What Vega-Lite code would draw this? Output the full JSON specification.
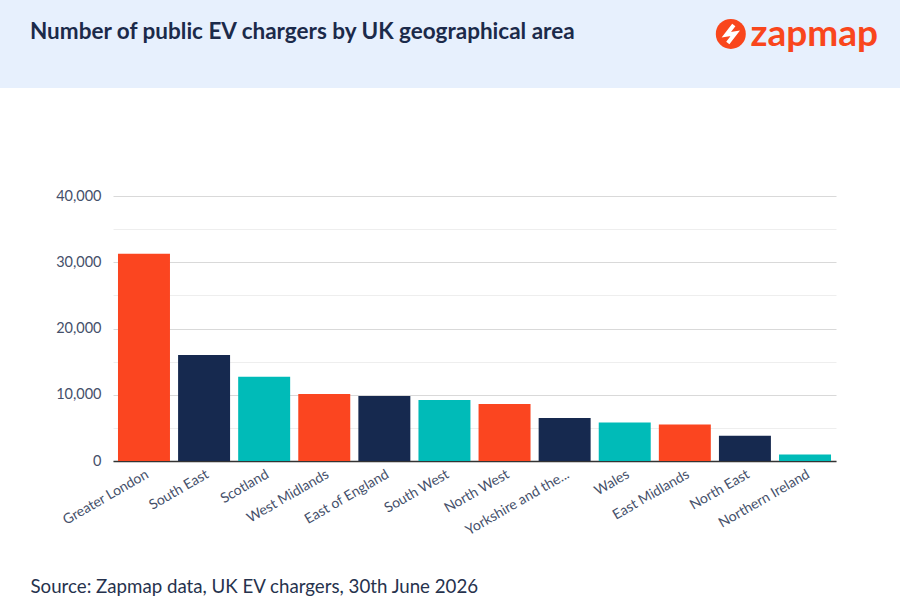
{
  "$schema": "https://vega.github.io/schema/vega-lite/v6.json",
  "padding": 0,
  "background": "white",
  "spacing": 100,
  "config": {
    "view": {"stroke": null},
    "font": "Lato",
    "concat": {"spacing": 0}
  },
  "vconcat": [
    {
      "width": 900,
      "height": 88,
      "view": {"fill": "#e7f0fd", "stroke": null},
      "layer": [
        {
          "data": {"values": [{"label": "Number of public EV chargers by UK geographical area"}]},
          "mark": {"type": "text", "align": "left", "baseline": "middle", "dx": 30, "fontSize": 22.5, "fontWeight": "bold", "color": "#1b2a4a"},
          "encoding": {
            "x": {"datum": 0, "type": "quantitative", "scale": {"domain": [0, 1]}, "axis": null},
            "y": {"datum": 0.64, "type": "quantitative", "scale": {"domain": [0, 1]}, "axis": null},
            "text": {"field": "label"}
          }
        },
        {
          "data": {"values": [{"label": "zapmap"}]},
          "mark": {"type": "text", "align": "right", "baseline": "middle", "fontSize": 37, "fontWeight": "bold", "color": "#f9461c"},
          "encoding": {
            "x": {"datum": 0.9756, "type": "quantitative"},
            "y": {"datum": 0.6, "type": "quantitative"},
            "text": {"field": "label"}
          }
        },
        {
          "data": {"values": [{"label": "logo"}]},
          "mark": {"type": "point", "shape": "circle", "filled": true, "size": 900, "color": "#f9461c", "opacity": 1},
          "encoding": {
            "x": {"datum": 0.812, "type": "quantitative"},
            "y": {"datum": 0.614, "type": "quantitative"}
          }
        },
        {
          "data": {"values": [{"label": "bolt"}]},
          "mark": {"type": "point", "shape": "M0.2,-0.6 L-0.3,0.05 L0.3,-0.05 L-0.2,0.6", "filled": false, "size": 900, "stroke": "white", "strokeWidth": 4, "opacity": 1},
          "encoding": {
            "x": {"datum": 0.812, "type": "quantitative"},
            "y": {"datum": 0.614, "type": "quantitative"}
          }
        }
      ]
    },
    {
      "hconcat": [
        {
          "width": 1,
          "height": 265,
          "data": {"values": []},
          "mark": "text",
          "encoding": {}
        },
        {
          "width": 723,
          "height": 265,
          "data": {
            "values": [
              {"region": "Greater London", "chargers": 31300},
              {"region": "South East", "chargers": 16000},
              {"region": "Scotland", "chargers": 12700},
              {"region": "West Midlands", "chargers": 10100},
              {"region": "East of England", "chargers": 9800},
              {"region": "South West", "chargers": 9200},
              {"region": "North West", "chargers": 8600},
              {"region": "Yorkshire and the Humber", "chargers": 6500},
              {"region": "Wales", "chargers": 5800},
              {"region": "East Midlands", "chargers": 5500},
              {"region": "North East", "chargers": 3800},
              {"region": "Northern Ireland", "chargers": 1000}
            ]
          },
          "mark": {"type": "bar"},
          "encoding": {
            "x": {
              "field": "region",
              "type": "nominal",
              "sort": null,
              "scale": {"paddingInner": 0.135, "paddingOuter": 0.083},
              "axis": {
                "title": "Source: Zapmap data, UK EV chargers, 30th June 2026",
                "titleAnchor": "start",
                "titleAlign": "left",
                "titleBaseline": "middle",
                "titleX": -83,
                "titleY": 125,
                "titleFontSize": 18.7,
                "titleFontWeight": "normal",
                "titleColor": "#26324d",
                "labelAngle": -30,
                "labelAlign": "right",
                "labelBaseline": "top",
                "labelPadding": 6,
                "labelFontSize": 14,
                "labelColor": "#45506a",
                "labelExpr": "datum.label == 'Yorkshire and the Humber' ? 'Yorkshire and the...' : datum.label",
                "ticks": false,
                "domainColor": "#333333",
                "domainWidth": 1.5
              }
            },
            "y": {
              "field": "chargers",
              "type": "quantitative",
              "scale": {"domain": [0, 40000], "nice": false},
              "axis": {
                "title": null,
                "values": [0, 5000, 10000, 15000, 20000, 25000, 30000, 35000, 40000],
                "labelExpr": "datum.value % 10000 === 0 ? format(datum.value, ',') : ''",
                "labelFontSize": 14.5,
                "labelColor": "#45506a",
                "labelPadding": 12,
                "ticks": false,
                "domain": false,
                "minExtent": 112,
                "gridColor": {"condition": {"test": "datum.value % 10000 === 0", "value": "#d9d9d9"}, "value": "#eeeeee"},
                "gridWidth": 1
              }
            },
            "color": {
              "field": "region",
              "type": "nominal",
              "scale": {
                "domain": ["Greater London", "South East", "Scotland", "West Midlands", "East of England", "South West", "North West", "Yorkshire and the Humber", "Wales", "East Midlands", "North East", "Northern Ireland"],
                "range": ["#fb4520", "#16294f", "#00bbb8"]
              },
              "legend": null
            }
          }
        }
      ]
    }
  ]
}
